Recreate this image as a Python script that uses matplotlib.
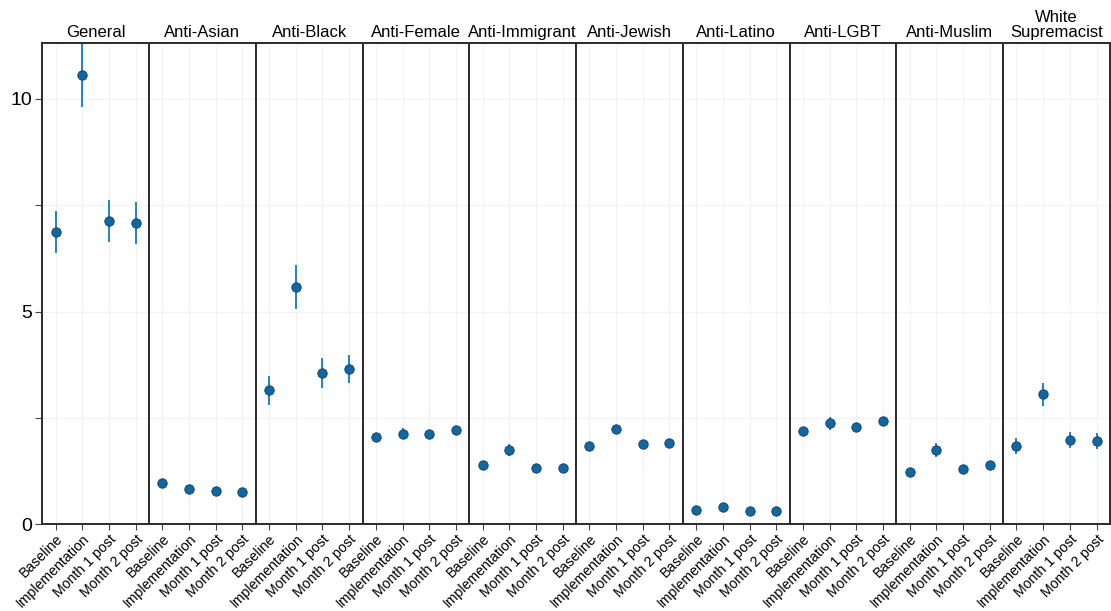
import numpy as np
import matplotlib.pyplot as plt
from matplotlib.ticker import MultipleLocator

plt.rcParams['font.family'] = ['Liberation Sans', 'DejaVu Sans']

periods = ["Baseline", "Implementation", "Month 1 post", "Month 2 post"]
groups = ["General", "Anti-Asian", "Anti-Black", "Anti-Female", "Anti-Immigrant",
          "Anti-Jewish", "Anti-Latino", "Anti-LGBT", "Anti-Muslim", "White\nSupremacist"]

# point estimates per group, one value per period
est_general = [6.87, 10.56, 7.13, 7.08]
est_asian = [0.96, 0.82, 0.78, 0.75]
est_black = [3.15, 5.58, 3.55, 3.65]
est_female = [2.04, 2.13, 2.11, 2.21]
est_immigrant = [1.39, 1.75, 1.33, 1.33]
est_jewish = [1.85, 2.23, 1.89, 1.91]
est_latino = [0.33, 0.40, 0.32, 0.31]
est_lgbt = [2.19, 2.37, 2.28, 2.42]
est_muslim = [1.22, 1.75, 1.29, 1.40]
est_white = [1.84, 3.06, 1.98, 1.96]

# confidence interval half widths
err_general = [0.49, 0.75, 0.49, 0.49]
err_asian = [0.04, 0.04, 0.03, 0.03]
err_black = [0.34, 0.52, 0.35, 0.34]
err_female = [0.05, 0.13, 0.05, 0.05]
err_immigrant = [0.05, 0.14, 0.04, 0.04]
err_jewish = [0.05, 0.10, 0.05, 0.05]
err_latino = [0.03, 0.05, 0.03, 0.03]
err_lgbt = [0.06, 0.16, 0.06, 0.07]
err_muslim = [0.04, 0.16, 0.05, 0.06]
err_white = [0.18, 0.27, 0.18, 0.18]

estimates = [est_general, est_asian, est_black, est_female, est_immigrant,
             est_jewish, est_latino, est_lgbt, est_muslim, est_white]
errors = [err_general, err_asian, err_black, err_female, err_immigrant,
          err_jewish, err_latino, err_lgbt, err_muslim, err_white]

fig, axes = plt.subplots(1, len(groups), sharey=True, figsize=(11.11, 6.11), dpi=100)
fig.subplots_adjust(left=0.038, right=0.999, top=0.93, bottom=0.142, wspace=0)

x = np.arange(1, len(periods) + 1)
for i, ax in enumerate(axes):
    ax.errorbar(x, estimates[i], yerr=errors[i], fmt='none', ecolor='#2283c6',
                elinewidth=1.4, zorder=2)
    ax.scatter(x, estimates[i], s=46, color='#0f67a3', edgecolors='#163a5c',
               linewidths=0.6, zorder=3)
    ax.set_title(groups[i], fontsize=12, pad=4, linespacing=1.0)
    ax.set_xlim(0.5, 4.5)
    ax.set_ylim(0, 11.32)
    ax.set_xticks(x)
    ax.set_xticklabels(periods, rotation=45, ha='right', rotation_mode='anchor', fontsize=10.2)
    ax.tick_params(axis='x', length=4, width=0.8, color='#444444', pad=1.5)
    ax.grid(True, which='both', color='#f2f2f2', linewidth=0.8)
    ax.set_axisbelow(True)
    for s in ax.spines.values():
        s.set_color('#2b2b2b')
        s.set_linewidth(1.4)
    if i > 0:
        ax.tick_params(axis='y', which='both', left=False)

axes[0].yaxis.set_major_locator(MultipleLocator(5))
axes[0].yaxis.set_minor_locator(MultipleLocator(2.5))
axes[0].tick_params(axis='y', which='both', length=5, width=0.8, color='#444444', labelsize=14, pad=2)

fig.savefig("out.png", dpi=100)
